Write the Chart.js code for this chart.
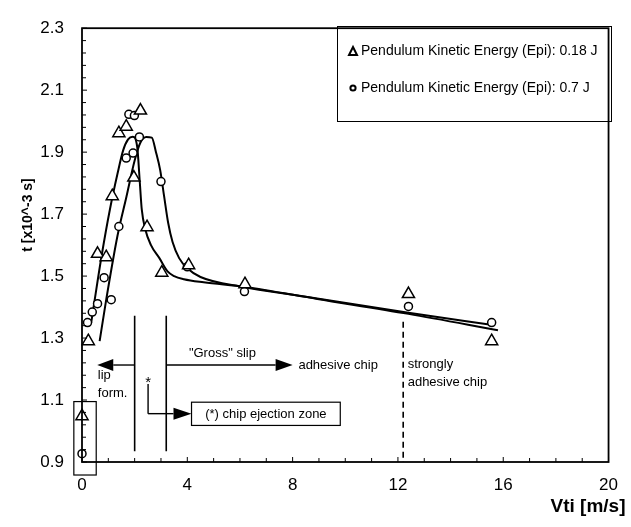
<!DOCTYPE html>
<html>
<head>
<meta charset="utf-8">
<script src="https://cdn.jsdelivr.net/npm/chart.js@4.4.1/dist/chart.umd.min.js"></script>
<style>
  body { margin: 0; background: #fff; }
  canvas { display: block; }
</style>
</head>
<body>
<canvas id="impactChart" width="631" height="527"></canvas>
<script>
// measured points, Epi = 0.18 J (triangles)
const triVti  = [0.0, 0.24, 0.59, 0.92, 1.15, 1.40, 1.68, 1.97, 2.22, 2.47, 3.03, 4.05, 6.19, 12.4, 15.56];
const triTime = [1.048, 1.29, 1.572, 1.561, 1.758, 1.961, 1.982, 1.818, 2.034, 1.658, 1.511, 1.535, 1.474, 1.442, 1.29];

// measured points, Epi = 0.7 J (circles)
const circVti  = [0.0, 0.21, 0.39, 0.59, 0.84, 1.11, 1.40, 1.68, 1.78, 1.94, 1.99, 2.18, 3.0, 4.0, 6.17, 12.4, 15.56];
const circTime = [0.927, 1.35, 1.384, 1.411, 1.495, 1.424, 1.66, 1.881, 2.022, 1.897, 2.018, 1.949, 1.805, 1.53, 1.45, 1.402, 1.35];

// fitted curves
const fitLowVti  = [0.35, 0.44, 0.75, 1.06, 1.35, 1.56, 1.75, 1.93, 2.10, 2.19, 2.27, 2.40, 2.62, 2.94, 3.25, 3.50, 3.87, 4.62, 6.19, 8.94, 12.4, 15.8];
const fitLowTime = [1.35, 1.40, 1.568, 1.715, 1.831, 1.905, 1.941, 1.95, 1.915, 1.81, 1.715, 1.652, 1.60, 1.558, 1.515, 1.50, 1.49, 1.48, 1.465, 1.426, 1.378, 1.325];
const fitHighVti  = [0.67, 0.92, 1.35, 1.69, 2.0, 2.22, 2.44, 2.65, 2.81, 2.97, 3.12, 3.27, 3.44, 3.69, 4.0, 4.5, 6.12, 8.2, 12.4, 15.6];
const fitHighTime = [1.29, 1.424, 1.631, 1.757, 1.873, 1.931, 1.949, 1.947, 1.90, 1.842, 1.757, 1.673, 1.61, 1.558, 1.525, 1.497, 1.465, 1.437, 1.382, 1.342];

const legendLabels = ['Pendulum Kinetic Energy (Epi): 0.18 J', 'Pendulum Kinetic Energy (Epi): 0.7 J'];

const pts = (xs, ys) => xs.map((v, i) => ({ x: v, y: ys[i] }));
const FONT = "'Liberation Sans', Arial, sans-serif";

function arrow(ctx, x1, y1, x2, y2, len, half) {
  const ang = Math.atan2(y2 - y1, x2 - x1);
  const bx = x2 - Math.cos(ang) * len, by = y2 - Math.sin(ang) * len;
  ctx.beginPath();
  ctx.moveTo(x1, y1);
  ctx.lineTo(bx, by);
  ctx.stroke();
  ctx.beginPath();
  ctx.moveTo(x2, y2);
  ctx.lineTo(bx - Math.sin(ang) * half, by + Math.cos(ang) * half);
  ctx.lineTo(bx + Math.sin(ang) * half, by - Math.cos(ang) * half);
  ctx.closePath();
  ctx.fill();
}

const decorations = {
  id: 'decorations',
  afterDraw(chart) {
    const { ctx, chartArea: a, scales: { x, y } } = chart;
    const X = v => x.getPixelForValue(v);
    const Y = v => y.getPixelForValue(v);
    ctx.save();
    ctx.strokeStyle = '#000';
    ctx.fillStyle = '#000';

    // plot frame
    ctx.lineWidth = 1.8;
    ctx.strokeRect(a.left, a.top, a.right - a.left, a.bottom - a.top);

    // inward tick marks
    ctx.lineWidth = 1;
    ctx.beginPath();
    for (let v = 0; v <= 20; v++) {
      const len = v % 4 === 0 ? 5 : 4;
      ctx.moveTo(X(v), a.bottom);
      ctx.lineTo(X(v), a.bottom - len);
    }
    for (let i = 0; i <= 35; i++) {
      const len = i % 5 === 0 ? 5 : 4;
      const py = Y(0.9 + i * 0.04);
      ctx.moveTo(a.left, py);
      ctx.lineTo(a.left + len, py);
    }
    ctx.stroke();

    // zone boundaries
    ctx.lineWidth = 1.6;
    ctx.beginPath();
    [2.0, 3.2].forEach(v => { ctx.moveTo(X(v), Y(1.372)); ctx.lineTo(X(v), Y(0.935)); });
    ctx.stroke();

    ctx.lineWidth = 1.4;
    arrow(ctx, X(2.0), Y(1.213), X(0.58), Y(1.213), 16, 6);
    arrow(ctx, X(3.2), Y(1.213), X(8.0), Y(1.213), 17, 6);

    // bent arrow to the ejection box
    ctx.beginPath();
    ctx.moveTo(X(2.51), Y(1.152));
    ctx.lineTo(X(2.51), Y(1.056));
    ctx.stroke();
    arrow(ctx, X(2.51), Y(1.056), X(4.16), Y(1.056), 18, 6);

    ctx.lineWidth = 1.2;
    ctx.strokeRect(X(4.16), Y(1.093), X(9.81) - X(4.16), Y(1.018) - Y(1.093));
    ctx.strokeRect(X(-0.31), Y(1.095), X(0.54) - X(-0.31), Y(0.858) - Y(1.095));

    // dashed boundary
    ctx.lineWidth = 1.6;
    ctx.setLineDash([6, 4]);
    ctx.beginPath();
    ctx.moveTo(X(12.2), Y(1.353));
    ctx.lineTo(X(12.2), a.bottom);
    ctx.stroke();
    ctx.setLineDash([]);

    // annotation text
    ctx.font = '13px ' + FONT;
    ctx.textBaseline = 'middle';
    ctx.textAlign = 'left';
    ctx.fillText('lip', X(0.6), Y(1.18));
    ctx.fillText('form.', X(0.6), Y(1.12));
    ctx.fillText('"Gross" slip', X(4.06), Y(1.25));
    ctx.fillText('adhesive chip', X(8.22), Y(1.213));
    ctx.fillText('strongly', X(12.37), Y(1.216));
    ctx.fillText('adhesive chip', X(12.37), Y(1.156));
    ctx.font = '15px ' + FONT;
    ctx.fillText('*', X(2.40), Y(1.155));
    ctx.font = '13px ' + FONT;
    ctx.textAlign = 'center';
    ctx.fillText('(*) chip ejection zone', (X(4.16) + X(9.81)) / 2, Y(1.055));

    // legend box
    ctx.lineWidth = 1;
    ctx.strokeRect(337.5, 26.5, 274, 95);
    ctx.font = '14px ' + FONT;
    ctx.textAlign = 'left';
    ctx.fillText(legendLabels[0], 361, 51);
    ctx.fillText(legendLabels[1], 361, 88);
    ctx.lineWidth = 2;
    ctx.beginPath();
    ctx.moveTo(353, 47); ctx.lineTo(357, 55); ctx.lineTo(349, 55); ctx.closePath();
    ctx.stroke();
    ctx.beginPath();
    ctx.arc(353, 88, 2.6, 0, Math.PI * 2);
    ctx.stroke();

    // axis titles
    ctx.font = 'bold 19px ' + FONT;
    ctx.textAlign = 'center';
    ctx.fillText('Vti [m/s]', 588, 507);
    ctx.save();
    ctx.translate(28, 215);
    ctx.rotate(-Math.PI / 2);
    ctx.font = 'bold 14px ' + FONT;
    ctx.fillText('t [x10^-3 s]', 0, 0);
    ctx.restore();

    ctx.restore();
  }
};

new Chart(document.getElementById('impactChart'), {
  type: 'scatter',
  data: {
    datasets: [
      {
        label: legendLabels[0],
        data: pts(triVti, triTime),
        pointStyle: 'triangle',
        pointRadius: 7,
        pointBorderWidth: 1.5,
        pointBorderColor: '#000',
        pointBackgroundColor: '#fff',
        clip: false,
        order: 0
      },
      {
        label: legendLabels[1],
        data: pts(circVti, circTime),
        pointStyle: 'circle',
        pointRadius: 4,
        pointBorderWidth: 1.5,
        pointBorderColor: '#000',
        pointBackgroundColor: '#fff',
        clip: false,
        order: 0
      },
      {
        label: 'fit 0.18 J',
        data: pts(fitLowVti, fitLowTime),
        showLine: true,
        pointRadius: 0,
        borderColor: '#000',
        borderWidth: 2,
        tension: 0.4,
        cubicInterpolationMode: 'monotone',
        order: 1
      },
      {
        label: 'fit 0.7 J',
        data: pts(fitHighVti, fitHighTime),
        showLine: true,
        pointRadius: 0,
        borderColor: '#000',
        borderWidth: 2,
        tension: 0.4,
        cubicInterpolationMode: 'monotone',
        order: 1
      }
    ]
  },
  options: {
    responsive: false,
    animation: false,
    layout: { padding: { left: 0, right: 16, top: 18, bottom: 0 } },
    plugins: {
      legend: { display: false },
      tooltip: { enabled: false }
    },
    scales: {
      x: {
        type: 'linear',
        min: 0,
        max: 20,
        grid: { display: false, drawTicks: false },
        border: { display: false },
        ticks: { stepSize: 4, padding: 13, color: '#000', font: { family: FONT, size: 17 } },
        afterFit: s => { s.height = 65; }
      },
      y: {
        min: 0.9,
        max: 2.3,
        grid: { display: false, drawTicks: false },
        border: { display: false },
        ticks: {
          stepSize: 0.2,
          padding: 18,
          color: '#000',
          font: { family: FONT, size: 17 },
          callback: v => v.toFixed(1)
        },
        afterFit: s => { s.width = 82; }
      }
    }
  },
  plugins: [decorations]
});
</script>
</body>
</html>
